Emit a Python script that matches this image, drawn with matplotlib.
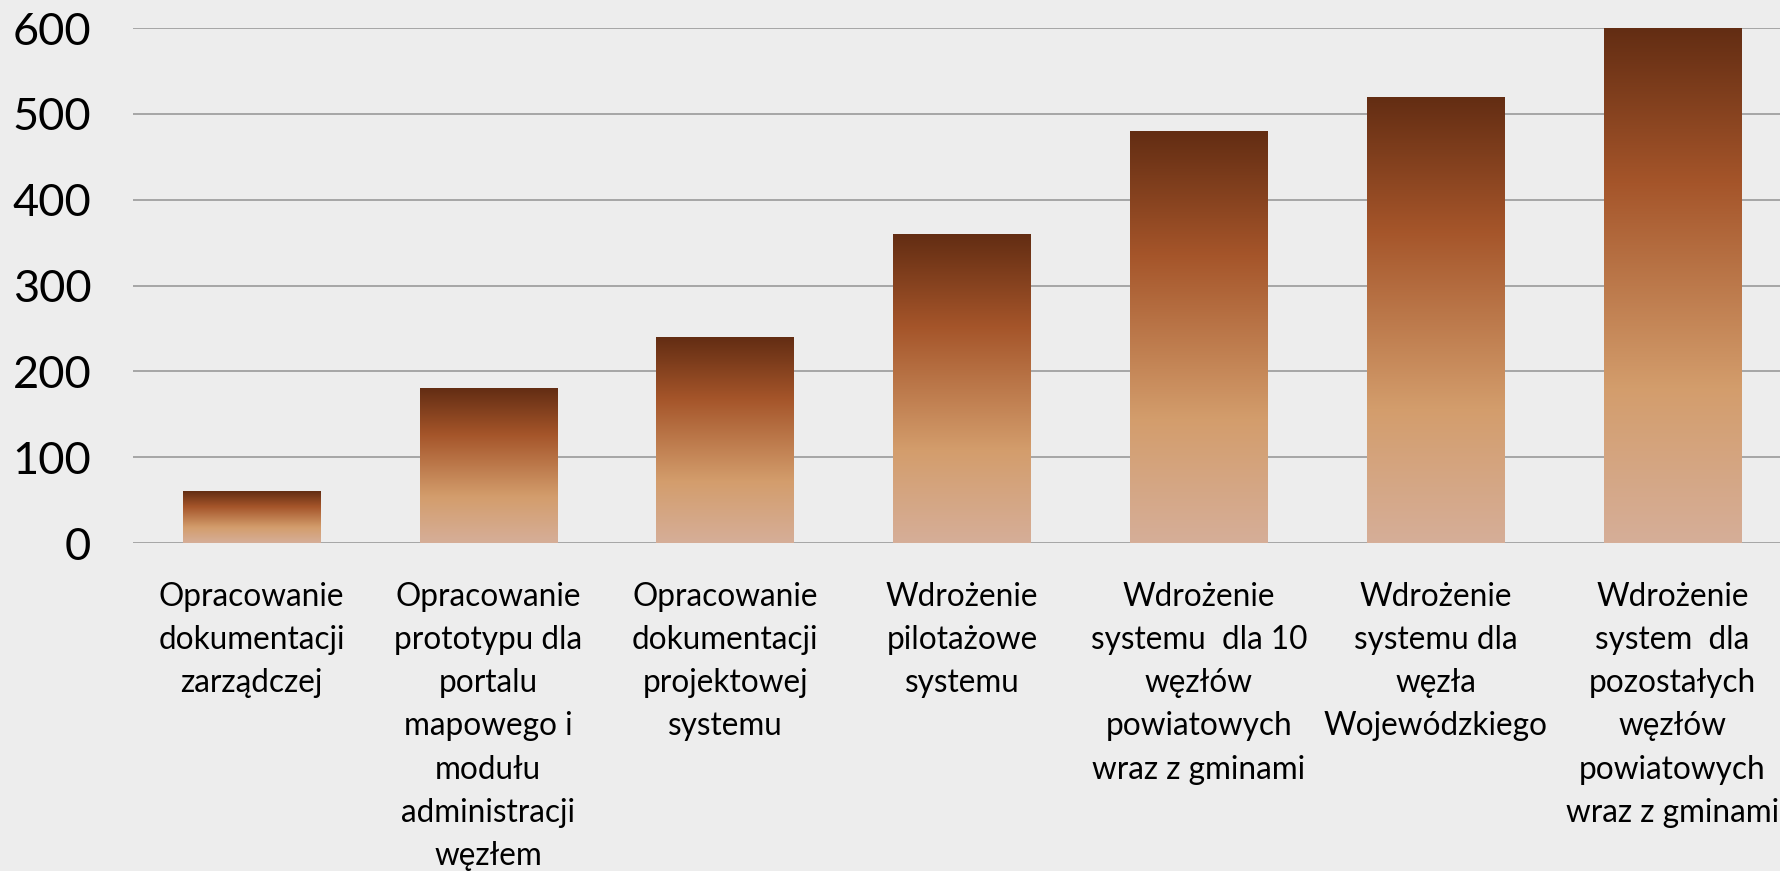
import numpy as np
import matplotlib.pyplot as plt
from matplotlib.colors import LinearSegmentedColormap

categories = [
    "Opracowanie\ndokumentacji\nzarządczej",
    "Opracowanie\nprototypu dla\nportalu\nmapowego i\nmodułu\nadministracji\nwęzłem",
    "Opracowanie\ndokumentacji\nprojektowej\nsystemu",
    "Wdrożenie\npilotażowe\nsystemu",
    "Wdrożenie\nsystemu  dla 10\nwęzłów\npowiatowych\nwraz z gminami",
    "Wdrożenie\nsystemu dla\nwęzła\nWojewódzkiego",
    "Wdrożenie\nsystem  dla\npozostałych\nwęzłów\npowiatowych\nwraz z gminami",
]
values = [60, 180, 240, 360, 480, 520, 600]
y_ticks = [0, 100, 200, 300, 400, 500, 600]

plt.rcParams['font.family'] = ['Lato', 'DejaVu Sans']

bg = '#ededed'
# gradient from bottom (0) to top (1) of each bar
grad = LinearSegmentedColormap.from_list('brown', [
    (0.0, '#d6ae98'),
    (0.30, '#d39d6c'),
    (0.70, '#a5552a'),
    (1.0, '#632d13'),
])

fig = plt.figure(figsize=(17.81, 8.71), dpi=100, facecolor=bg)
ax = fig.add_axes([133 / 1781, 328 / 871, 1658 / 1781, 515 / 871])
ax.set_facecolor(bg)

x = np.arange(len(values))
bars = ax.bar(x, values, width=0.58, color='none', edgecolor='none', zorder=3)

ramp = np.linspace(0, 1, 256).reshape(-1, 1)
for b in bars:
    x0, y0 = b.get_x(), b.get_y()
    w, h = b.get_width(), b.get_height()
    im = ax.imshow(ramp, cmap=grad, origin='lower', aspect='auto',
                   extent=[x0, x0 + w, y0, y0 + h], zorder=3)
    im.set_clip_path(b)

ax.set_xlim(-0.5, len(values) - 0.5)
ax.set_ylim(0, 600)
ax.set_yticks(y_ticks)
ax.set_xticks(x)
ax.set_xticklabels(categories, fontsize=22.7, linespacing=1.55)
ax.tick_params(axis='y', labelsize=32.5, length=0, pad=30)
ax.tick_params(axis='x', length=0, pad=28)
for lbl in ax.get_xticklabels():
    lbl.set_multialignment('center')

ax.grid(axis='y', color='#a0a0a0', linewidth=1.3, zorder=0)
ax.set_axisbelow(True)
for s in ax.spines.values():
    s.set_visible(False)

fig.savefig('out.png', dpi=100, facecolor=bg)
